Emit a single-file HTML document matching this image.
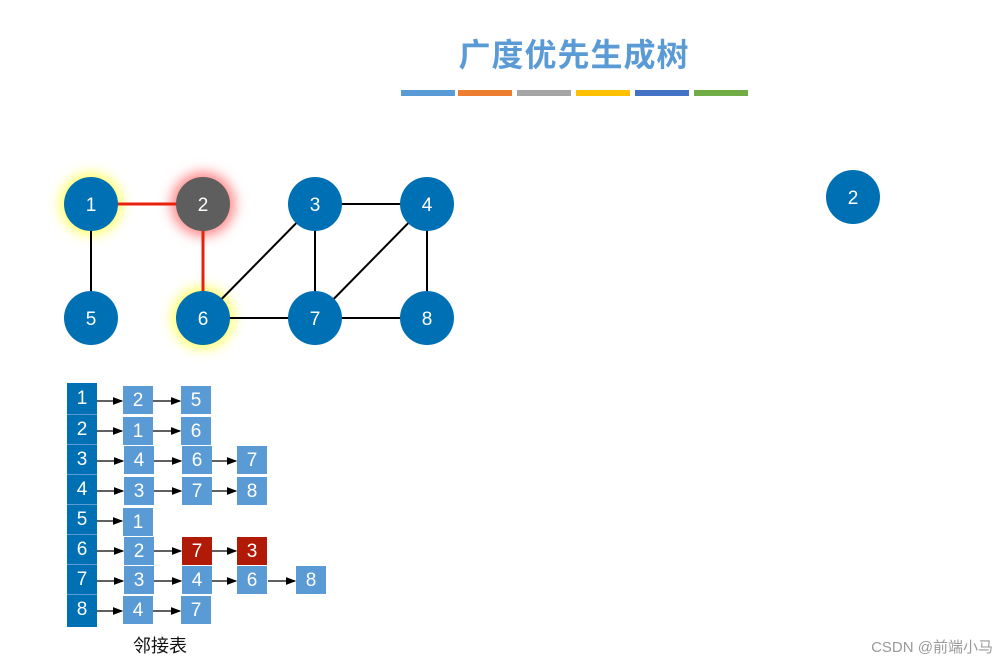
<!DOCTYPE html>
<html><head><meta charset="utf-8"><style>
body{margin:0;width:1001px;height:665px;background:#fff;overflow:hidden;position:relative;font-family:"Liberation Sans","Noto Sans CJK SC",sans-serif}
.t{position:absolute;left:0;width:1001px;top:30px;text-align:center;padding-left:147px;box-sizing:border-box;font-size:32px;font-weight:bold;color:#5b9bd5;letter-spacing:1px}
.bar{position:absolute;top:90px;height:6px;width:54px}
.c{position:absolute;width:30px;height:30px;color:#fff;font-size:19px;text-align:center;line-height:30px}
.b{position:absolute;width:30px;height:28px;color:#fff;font-size:19px;text-align:center;line-height:30px;background:#5b9bd5}
.r{background:#b01a06}
.wm{position:absolute;right:8px;top:636px;font-size:15px;color:#999}
</style></head><body>
<div class="t">广度优先生成树</div>
<div class="bar" style="left:401px;background:#5b9bd5"></div>
<div class="bar" style="left:458px;background:#ed7d31"></div>
<div class="bar" style="left:517px;background:#a5a5a5"></div>
<div class="bar" style="left:576px;background:#ffc000"></div>
<div class="bar" style="left:635px;background:#4472c4"></div>
<div class="bar" style="left:694px;background:#70ad47"></div>
<svg width="1001" height="665" style="position:absolute;left:0;top:0">
<defs>
<filter id="gy" x="-1" y="-1" width="3" height="3"><feGaussianBlur stdDeviation="6"/></filter>
<marker id="a" markerWidth="8" markerHeight="8" refX="7" refY="4" orient="auto"><path d="M0,1 L8,4 L0,7z" fill="#000"/></marker>
</defs>
<circle cx="91" cy="204" r="31" fill="#ffff66" filter="url(#gy)"/>
<circle cx="203" cy="318" r="31" fill="#ffff66" filter="url(#gy)"/>
<circle cx="203" cy="204" r="32" fill="#ff8888" filter="url(#gy)"/>
<g stroke="#000" stroke-width="2">
<line x1="91" y1="204" x2="91" y2="318"/>
<line x1="315" y1="204" x2="203" y2="318"/>
<line x1="203" y1="318" x2="427" y2="318"/>
<line x1="315" y1="204" x2="427" y2="204"/>
<line x1="315" y1="204" x2="315" y2="318"/>
<line x1="427" y1="204" x2="315" y2="318"/>
<line x1="427" y1="204" x2="427" y2="318"/>
</g>
<g stroke="#e8200c" stroke-width="3">
<line x1="91" y1="204" x2="203" y2="204"/>
<line x1="203" y1="204" x2="203" y2="318"/>
</g>
<g fill="#0070b5">
<circle cx="91" cy="204" r="27"/><circle cx="315" cy="204" r="27"/><circle cx="427" cy="204" r="27"/>
<circle cx="91" cy="318" r="27"/><circle cx="203" cy="318" r="27"/><circle cx="315" cy="318" r="27"/><circle cx="427" cy="318" r="27"/>
<circle cx="853" cy="197" r="27"/>
</g>
<circle cx="203" cy="204" r="27" fill="#5e5e5e"/>
<g fill="#fff" font-size="19" text-anchor="middle" font-family="Liberation Sans,sans-serif">
<text x="91" y="211">1</text><text x="203" y="211">2</text><text x="315" y="211">3</text><text x="427" y="211">4</text>
<text x="91" y="325">5</text><text x="203" y="325">6</text><text x="315" y="325">7</text><text x="427" y="325">8</text>
<text x="853" y="204">2</text>
</g>
<g stroke="#000" stroke-width="1.3" marker-end="url(#a)">
<line x1="97" y1="401" x2="122" y2="401"/><line x1="153" y1="401" x2="180" y2="401"/>
<line x1="97" y1="431" x2="122" y2="431"/><line x1="153" y1="431" x2="180" y2="431"/>
<line x1="97" y1="461" x2="123" y2="461"/><line x1="154" y1="461" x2="181" y2="461"/><line x1="210" y1="461" x2="236" y2="461"/>
<line x1="97" y1="491" x2="123" y2="491"/><line x1="154" y1="491" x2="181" y2="491"/><line x1="210" y1="491" x2="236" y2="491"/>
<line x1="97" y1="521" x2="122" y2="521"/>
<line x1="97" y1="551" x2="123" y2="551"/><line x1="154" y1="551" x2="181" y2="551"/><line x1="211" y1="551" x2="236" y2="551"/>
<line x1="97" y1="581" x2="123" y2="581"/><line x1="154" y1="581" x2="181" y2="581"/><line x1="268" y1="581" x2="295" y2="581"/><line x1="211" y1="581" x2="236" y2="581"/>
<line x1="97" y1="611" x2="122" y2="611"/><line x1="153" y1="611" x2="180" y2="611"/>
</g>
</svg>
<div style="position:absolute;left:67px;top:383px;width:30px;height:244px;background:#0070b5"></div>
<div class="c" style="left:67px;top:384px">1</div>
<div class="c" style="left:67px;top:414px;border-top:1px solid #5b9bd5">2</div>
<div class="c" style="left:67px;top:444px;border-top:1px solid #5b9bd5">3</div>
<div class="c" style="left:67px;top:474px;border-top:1px solid #5b9bd5">4</div>
<div class="c" style="left:67px;top:504px;border-top:1px solid #5b9bd5">5</div>
<div class="c" style="left:67px;top:534px;border-top:1px solid #5b9bd5">6</div>
<div class="c" style="left:67px;top:564px;border-top:1px solid #5b9bd5">7</div>
<div class="c" style="left:67px;top:594px;border-top:1px solid #5b9bd5">8</div>
<div class="b" style="left:123px;top:386px">2</div><div class="b" style="left:181px;top:386px">5</div>
<div class="b" style="left:123px;top:417px">1</div><div class="b" style="left:181px;top:417px">6</div>
<div class="b" style="left:124px;top:446px">4</div><div class="b" style="left:182px;top:446px">6</div><div class="b" style="left:237px;top:446px">7</div>
<div class="b" style="left:124px;top:477px">3</div><div class="b" style="left:182px;top:477px">7</div><div class="b" style="left:237px;top:477px">8</div>
<div class="b" style="left:123px;top:508px">1</div>
<div class="b" style="left:124px;top:537px">2</div><div class="b r" style="left:182px;top:537px">7</div><div class="b r" style="left:237px;top:537px">3</div>
<div class="b" style="left:124px;top:566px">3</div><div class="b" style="left:182px;top:566px">4</div><div class="b" style="left:237px;top:566px">6</div><div class="b" style="left:296px;top:566px">8</div>
<div class="b" style="left:123px;top:596px">4</div><div class="b" style="left:181px;top:596px">7</div>
<div style="position:absolute;left:133px;top:632px;font-size:18px;color:#111">邻接表</div>
<div class="wm">CSDN @前端小马</div>
</body></html>
